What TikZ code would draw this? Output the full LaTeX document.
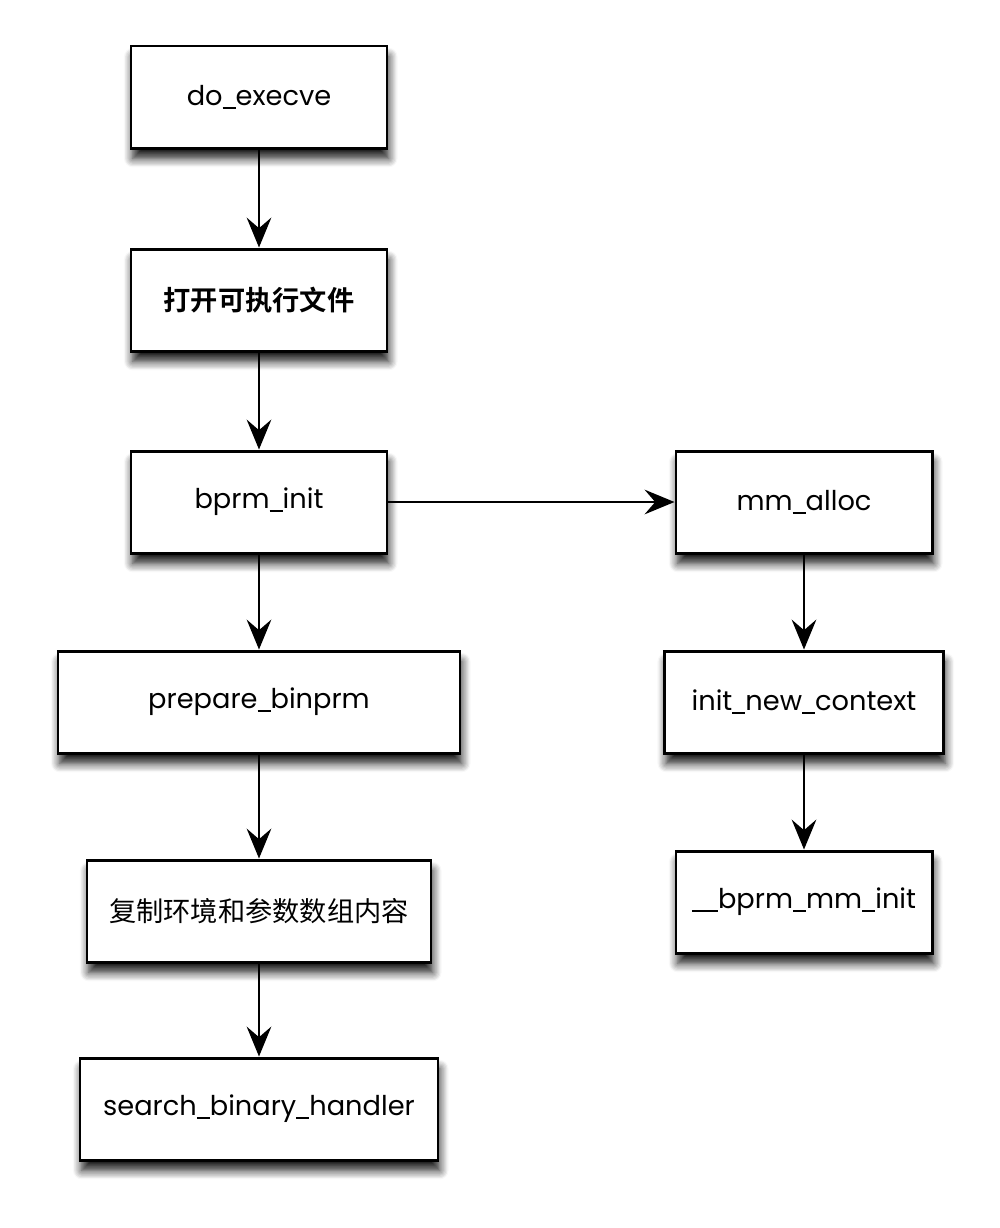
\documentclass[tikz,border=0pt]{standalone}
\usepackage{fontspec}
\setmainfont{Poppins}
\newfontfamily\cjk{Noto Sans CJK SC}[BoldFont={* Bold}]
\usetikzlibrary{arrows.meta,shadows.blur}
\newcommand\usc{\rule[-0.12em]{0.48em}{0.06em}}
\begin{document}
\begin{tikzpicture}[x=0.02cm,y=-0.02cm,
  box/.style={draw=black,line width=1.7pt,fill=white,minimum height=102*0.02cm,
    font=\fontsize{15.5}{18}\selectfont,inner sep=0pt,
    blur shadow={shadow xshift=1pt,shadow yshift=-6pt,shadow blur radius=5pt,shadow blur steps=8,shadow opacity=90}},
  conn/.style={line width=1.4pt,-{Stealth[length=17pt,width=14pt,inset=6pt]}}]
\useasboundingbox (0,0) rectangle (1000,1228);
\node[box,minimum width=256*0.02cm] (exec) at (259,97) {do\usc execve};
\node[box,minimum width=256*0.02cm] (open) at (259,300) {\cjk\bfseries 打开可执行文件};
\node[box,minimum width=256*0.02cm] (init) at (259,502) {bprm\usc init};
\node[box,minimum width=256*0.02cm] (mm) at (804,502) {mm\usc alloc};
\node[box,minimum width=402*0.02cm] (prep) at (259,702) {prepare\usc binprm};
\node[box,minimum width=279*0.02cm] (ctx) at (804,702) {init\usc new\usc context};
\node[box,minimum width=344*0.02cm] (copy) at (259,911) {\cjk 复制环境和参数数组内容};
\node[box,minimum width=256*0.02cm] (bmm) at (804,902) {\usc\usc bprm\usc mm\usc init};
\node[box,minimum width=358*0.02cm] (search) at (259,1109) {search\usc binary\usc handler};
\draw[conn] (exec) -- (open);
\draw[conn] (open) -- (init);
\draw[conn] (init) -- (mm);
\draw[conn] (init) -- (prep);
\draw[conn] (prep) -- (copy);
\draw[conn] (copy) -- (search);
\draw[conn] (mm) -- (ctx);
\draw[conn] (ctx) -- (bmm);
\end{tikzpicture}
\end{document}
